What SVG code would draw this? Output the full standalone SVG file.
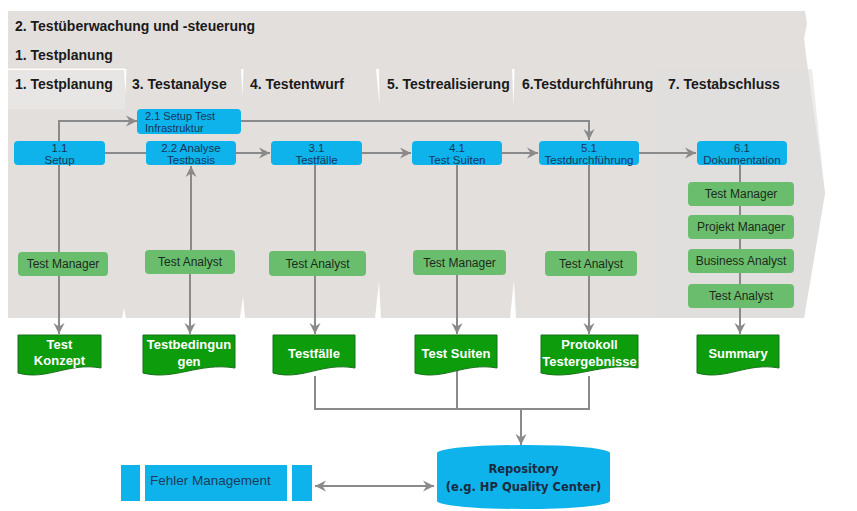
<svg xmlns="http://www.w3.org/2000/svg" width="857" height="511" viewBox="0 0 857 511">
<defs>
<marker id="arr" markerUnits="userSpaceOnUse" markerWidth="12" markerHeight="12" viewBox="0 0 12 12" refX="11" refY="6" orient="auto-start-reverse">
<path d="M0,0.5 L11,6 L0,11.5 L3.5,6 Z" fill="#8a8a8a"/>
</marker>
<style>
.hdr{font-family:"Liberation Sans",Arial,sans-serif;font-weight:bold;font-size:14px;fill:#1a1a1a}
.con{fill:none;stroke:#8a8a8a;stroke-width:2}
.blue{fill:#0db3ea}
.btxt{font-family:"Liberation Sans",Arial,sans-serif;font-size:11.5px;fill:#17365d;text-anchor:middle}
.role{fill:#6bbd6e}
.rtxt{font-family:"Liberation Sans",Arial,sans-serif;font-size:12px;fill:#1c2a1c;text-anchor:middle}
.doc{fill:#0c9c0c;stroke:#17701a;stroke-width:1}
.dtxt{font-family:"Liberation Sans",Arial,sans-serif;font-weight:bold;font-size:13px;fill:#ffffff;text-anchor:middle}
.sep{fill:#ffffff}
</style>
</defs>
<rect width="857" height="511" fill="#ffffff"/>
<g id="background">
<path d="M8,11 L805,11 L807,24 L804,38 L806,55 L825,193 L804,318 L8,318 Z" fill="#e3dfdd"/>
<path d="M656,69 L812,69 L825,193 L804,318 L656,318 Z" fill="#e0e0e0" opacity="0.6"/>
<rect x="8" y="69" width="117" height="40" fill="#e8e6e4"/>
<path class="sep" d="M8,68.5 H125 V70 H8 Z"/>
<path class="sep" d="M124,69 L126.5,69 L125.5,95 Z"/>
<path class="sep" d="M241,69 L243.5,69 L242.5,96 Z"/>
<path class="sep" d="M376,69 L379,69 L379.5,106 Z"/>
<path class="sep" d="M512,69 L514.5,69 L513.5,107 Z"/>
<path class="sep" d="M122,318 L124,308 L126,318 Z"/>
<path class="sep" d="M240,318 L243,296 L245,318 Z"/>
<path class="sep" d="M375,318 L379,282 L381,318 Z"/>
<path class="sep" d="M510,318 L514,280 L516,318 Z"/>
<text class="hdr" x="15" y="31">2. Testüberwachung und -steuerung</text>
<text class="hdr" x="15" y="60">1. Testplanung</text>
<text class="hdr" x="15" y="89">1. Testplanung</text>
<text class="hdr" x="132" y="89">3. Testanalyse</text>
<text class="hdr" x="250" y="89">4. Testentwurf</text>
<text class="hdr" x="387" y="89">5. Testrealisierung</text>
<text class="hdr" x="522" y="89">6.Testdurchführung</text>
<text class="hdr" x="668" y="89">7. Testabschluss</text>
</g>
<g id="connectors">
<path class="con" d="M59,141 V121 H137" marker-end="url(#arr)"/>
<path class="con" d="M241,121 H589 V140" marker-end="url(#arr)"/>
<path class="con" d="M105,153 H146"/>
<path class="con" d="M236,153 H270" marker-end="url(#arr)"/>
<path class="con" d="M362,153 H411" marker-end="url(#arr)"/>
<path class="con" d="M502,153 H538" marker-end="url(#arr)"/>
<path class="con" d="M639,153 H696" marker-end="url(#arr)"/>
<path class="con" d="M59,165 V334" marker-end="url(#arr)"/>
<path class="con" d="M191,250 V166" marker-end="url(#arr)"/>
<path class="con" d="M190,274 V334" marker-end="url(#arr)"/>
<path class="con" d="M315,165 V334" marker-end="url(#arr)"/>
<path class="con" d="M457,165 V334" marker-end="url(#arr)"/>
<path class="con" d="M589,165 V334" marker-end="url(#arr)"/>
<path class="con" d="M740,165 V334" marker-end="url(#arr)"/>
<path class="con" d="M315,376 V409 H589 V376"/>
<path class="con" d="M457,370 V409"/>
<path class="con" d="M521,409 V445" marker-end="url(#arr)"/>
<path class="con" d="M315,486 H434" marker-start="url(#arr)" marker-end="url(#arr)"/>
</g>
<g id="n21">
<rect class="blue" x="137" y="109" width="104" height="25" rx="4"/>
<text class="btxt" style="text-anchor:start;font-size:11px" x="145" y="120">2.1 Setup Test</text>
<text class="btxt" style="text-anchor:start;font-size:11px" x="145" y="131.5">Infrastruktur</text>
</g>
<g id="n11">
<rect class="blue" x="14" y="141" width="91" height="24" rx="4"/>
<text class="btxt" x="59.5" y="151.5">1.1</text>
<text class="btxt" x="59.5" y="163.5">Setup</text>
</g>
<g id="n22">
<rect class="blue" x="146" y="141" width="90" height="24" rx="4"/>
<text class="btxt" x="191" y="151.5">2.2 Analyse</text>
<text class="btxt" x="191" y="163.5">Testbasis</text>
</g>
<g id="n31">
<rect class="blue" x="271" y="141" width="91" height="24" rx="4"/>
<text class="btxt" x="316.5" y="151.5">3.1</text>
<text class="btxt" x="316.5" y="163.5">Testfälle</text>
</g>
<g id="n41">
<rect class="blue" x="412" y="141" width="90" height="24" rx="4"/>
<text class="btxt" x="457" y="151.5">4.1</text>
<text class="btxt" x="457" y="163.5">Test Suiten</text>
</g>
<g id="n51">
<rect class="blue" x="539" y="141" width="100" height="24" rx="4"/>
<text class="btxt" x="589" y="151.5">5.1</text>
<text class="btxt" x="589" y="163.5">Testdurchführung</text>
</g>
<g id="n61">
<rect class="blue" x="697" y="141" width="90" height="24" rx="4"/>
<text class="btxt" x="742" y="151.5">6.1</text>
<text class="btxt" x="742" y="163.5">Dokumentation</text>
</g>
<g id="r1">
<rect class="role" x="18" y="252" width="90" height="24" rx="4"/>
<text class="rtxt" x="63" y="268">Test Manager</text>
</g>
<g id="r2">
<rect class="role" x="145" y="250" width="90" height="24" rx="4"/>
<text class="rtxt" x="190" y="266">Test Analyst</text>
</g>
<g id="r3">
<rect class="role" x="269" y="251" width="97" height="25" rx="4"/>
<text class="rtxt" x="317.5" y="267.5">Test Analyst</text>
</g>
<g id="r4">
<rect class="role" x="413" y="250" width="93" height="25" rx="4"/>
<text class="rtxt" x="459.5" y="266.5">Test Manager</text>
</g>
<g id="r5">
<rect class="role" x="545" y="251" width="92" height="25" rx="4"/>
<text class="rtxt" x="591" y="267.5">Test Analyst</text>
</g>
<g id="r6">
<rect class="role" x="688" y="182" width="106" height="24" rx="4"/>
<text class="rtxt" x="741" y="198">Test Manager</text>
</g>
<g id="r7">
<rect class="role" x="688" y="215" width="106" height="24" rx="4"/>
<text class="rtxt" x="741" y="231">Projekt Manager</text>
</g>
<g id="r8">
<rect class="role" x="688" y="249" width="106" height="24" rx="4"/>
<text class="rtxt" x="741" y="265">Business Analyst</text>
</g>
<g id="r9">
<rect class="role" x="688" y="284" width="106" height="24" rx="4"/>
<text class="rtxt" x="741" y="300">Test Analyst</text>
</g>
<g id="d1">
<path class="doc" d="M18,335 H101 V368 C68,362 47,381 18,373 Z"/>
<text class="dtxt" x="59.5" y="349">Test</text>
<text class="dtxt" x="59.5" y="365">Konzept</text>
</g>
<g id="d2">
<path class="doc" d="M143,335 H235 V368 C198,362 175,381 143,373 Z"/>
<text class="dtxt" x="189" y="349">Testbedingun</text>
<text class="dtxt" x="189" y="366">gen</text>
</g>
<g id="d3">
<path class="doc" d="M273,335 H355 V368 C322,362 302,381 273,373 Z"/>
<text class="dtxt" x="314" y="358">Testfälle</text>
</g>
<g id="d4">
<path class="doc" d="M415,335 H497 V368 C464,362 444,381 415,373 Z"/>
<text class="dtxt" x="456" y="358">Test Suiten</text>
</g>
<g id="d5">
<path class="doc" d="M541,335 H638 V368 C600,362 575,381 541,373 Z"/>
<text class="dtxt" x="589.5" y="349">Protokoll</text>
<text class="dtxt" x="589.5" y="366">Testergebnisse</text>
</g>
<g id="d6">
<path class="doc" d="M697,335 H779 V368 C746,362 726,381 697,373 Z"/>
<text class="dtxt" x="738" y="358">Summary</text>
</g>
<g id="fehler">
<rect class="blue" x="121" y="465" width="19" height="36"/>
<rect class="blue" x="145" y="465" width="142" height="36"/>
<rect class="blue" x="292" y="465" width="20" height="36"/>
<text x="150" y="485" style="font-family:'Liberation Sans',Arial,sans-serif;font-size:13.5px;fill:#1f3b5c">Fehler Management</text>
</g>
<g id="repository">
<path class="blue" d="M437,453 A86.5,8 0 0 1 610,453 V501 A86.5,8 0 0 1 437,501 Z"/>
<text x="523.5" y="473" style="font-family:'DejaVu Sans',Verdana,sans-serif;font-weight:bold;font-size:11.5px;fill:#1a2a40;text-anchor:middle">Repository</text>
<text x="523.5" y="491" style="font-family:'DejaVu Sans',Verdana,sans-serif;font-weight:bold;font-size:11.5px;fill:#1a2a40;text-anchor:middle">(e.g. HP Quality Center)</text>
</g>
</svg>
